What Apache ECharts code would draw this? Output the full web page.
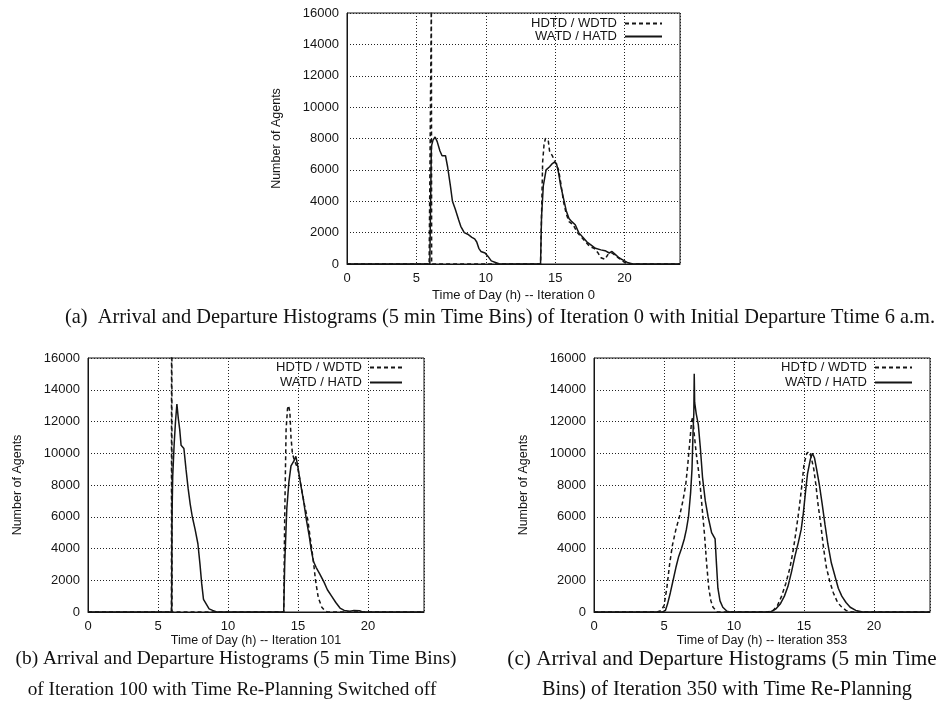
<!DOCTYPE html>
<html>
<head>
<meta charset="utf-8">
<script src="https://cdn.jsdelivr.net/npm/echarts@6/dist/echarts.min.js"></script>
<style>
html,body{margin:0;padding:0;background:#fff;}
#chart{width:947px;height:715px;}
</style>
</head>
<body>
<div id="chart"></div>
<script>
// ---- Tick settings ----
const xTicks = {min: 0, max: 24, interval: 5};
const yTicks = {min: 0, max: 16000, interval: 2000};

const seriesNames = ['HDTD / WDTD', 'WATD / HATD'];

const xNames = ['Time of Day (h) -- Iteration 0', 'Time of Day (h) -- Iteration 101', 'Time of Day (h) -- Iteration 353'];
const yName = 'Number of Agents';

const captionA = '(a)  Arrival and Departure Histograms (5 min Time Bins) of Iteration 0 with Initial Departure Ttime 6 a.m.';
const captionB = ['(b) Arrival and Departure Histograms (5 min Time Bins)', 'of Iteration 100 with Time Re-Planning Switched off'];
const captionC = ['(c) Arrival and Departure Histograms (5 min Time', 'Bins) of Iteration 350 with Time Re-Planning'];

// ---- Panel (a): Iteration 0 ---- [hour, agents]
const a_dep = [[0,0],[5.92,0],[6.08,17000],[6.1,0],[13.95,0],[14.1,6500],[14.2,7600],[14.3,8000],[14.5,7900],[14.6,7200],[14.8,6900],[15.0,6500],[15.25,6000],[15.4,5200],[15.6,4000],[15.8,3200],[16.0,2700],[16.3,2500],[16.6,2000],[16.9,1700],[17.2,1400],[17.5,1100],[17.8,1000],[18.1,700],[18.3,400],[18.6,300],[18.8,600],[19.1,700],[19.4,500],[19.7,300],[20.0,100],[20.3,0],[24,0]];
const a_arr = [[0,0],[5.97,0],[6.02,3500],[6.08,7500],[6.2,7900],[6.35,8100],[6.5,7800],[6.7,7200],[6.85,6900],[7.1,6900],[7.25,6200],[7.45,5000],[7.6,4000],[7.8,3500],[8.05,2800],[8.2,2400],[8.45,2000],[8.7,1900],[9.0,1700],[9.2,1600],[9.35,1400],[9.5,1000],[9.65,800],[9.95,700],[10.15,500],[10.4,200],[10.7,100],[11.0,0],[13.95,0],[14.02,3000],[14.15,5000],[14.35,6000],[14.6,6200],[14.8,6400],[14.95,6500],[15.1,6400],[15.25,5800],[15.4,5000],[15.6,4200],[15.8,3400],[16.0,2900],[16.2,2700],[16.45,2500],[16.7,2000],[17.0,1700],[17.3,1400],[17.6,1200],[17.9,1000],[18.3,900],[18.6,850],[18.9,700],[19.1,800],[19.35,600],[19.6,400],[19.9,250],[20.2,100],[20.6,0],[24,0]];

// ---- Panel (b): Iteration 101 ----
const b_dep = [[0,0],[5.96,0],[5.98,40000],[6.0,0],[13.98,0],[14.05,6000],[14.15,11500],[14.25,12800],[14.33,13000],[14.42,12600],[14.5,11000],[14.6,10000],[14.72,9600],[14.85,9700],[15.0,9000],[15.2,8000],[15.45,6800],[15.7,5800],[15.9,4500],[16.1,3200],[16.25,2000],[16.45,900],[16.7,300],[16.9,100],[17.1,0],[24,0]];
const b_arr = [[0,0],[5.97,0],[6.0,6000],[6.05,8500],[6.15,10500],[6.25,12000],[6.35,13100],[6.45,12200],[6.55,11500],[6.65,10500],[6.85,10300],[7.0,9000],[7.15,7800],[7.3,6800],[7.45,6000],[7.65,5200],[7.85,4300],[8.0,3000],[8.12,1800],[8.25,800],[8.45,500],[8.65,200],[8.9,100],[9.2,0],[13.98,0],[14.05,3000],[14.2,6500],[14.35,8200],[14.5,9200],[14.7,9500],[14.85,9800],[15.0,9100],[15.2,8000],[15.4,7000],[15.6,5800],[15.8,4800],[15.95,3900],[16.1,3200],[16.3,2800],[16.55,2400],[16.85,1900],[17.1,1400],[17.4,1000],[17.7,600],[18.0,250],[18.3,100],[18.7,50],[19.0,100],[19.4,80],[19.6,0],[24,0]];

// ---- Panel (c): Iteration 353 ----
const c_dep = [[0,0],[4.5,0],[4.8,100],[5.0,400],[5.2,1500],[5.4,3000],[5.6,4200],[5.85,5200],[6.1,6000],[6.35,7000],[6.55,8000],[6.7,9300],[6.85,10800],[6.97,12000],[7.05,12300],[7.15,11300],[7.3,10000],[7.45,9000],[7.6,7800],[7.75,6300],[7.9,4800],[8.05,3000],[8.2,1500],[8.35,700],[8.5,300],[8.8,0],[12.4,0],[12.8,100],[13.1,400],[13.4,1000],[13.7,1800],[14.0,2800],[14.25,4000],[14.45,5200],[14.65,6500],[14.85,8000],[15.0,9300],[15.2,10000],[15.35,10100],[15.5,9800],[15.7,9000],[15.85,8000],[16.0,6800],[16.2,5500],[16.4,4000],[16.6,2800],[16.85,1900],[17.1,1200],[17.4,600],[17.7,300],[18.0,100],[18.4,0],[24,0]];
const c_arr = [[0,0],[4.9,0],[5.1,100],[5.25,500],[5.45,1200],[5.65,2000],[5.85,2800],[6.05,3500],[6.25,4000],[6.45,4600],[6.6,5200],[6.75,6000],[6.9,7500],[7.0,9000],[7.08,11500],[7.13,12500],[7.16,15000],[7.19,13200],[7.3,12500],[7.45,11800],[7.6,10300],[7.75,8500],[7.95,7000],[8.15,6000],[8.4,5000],[8.65,4600],[8.75,3000],[8.85,1500],[9.0,700],[9.2,300],[9.5,50],[9.7,0],[12.6,0],[13.0,200],[13.3,500],[13.6,1000],[13.85,1600],[14.1,2500],[14.35,3500],[14.6,4400],[14.8,5200],[14.95,6200],[15.1,7500],[15.25,8700],[15.45,9600],[15.6,10000],[15.75,9700],[15.9,9000],[16.1,8000],[16.3,6800],[16.5,5500],[16.7,4300],[16.95,3100],[17.2,2300],[17.45,1500],[17.7,1000],[18.0,600],[18.3,300],[18.7,100],[19.2,0],[24,0]];

const panels = [
  {dep: a_dep, arr: a_arr},
  {dep: b_dep, arr: b_arr},
  {dep: c_dep, arr: c_arr}
];

// ---- Layout ----
const grids = [
  {left: 347, top: 13, width: 333, height: 251},
  {left: 88, top: 358, width: 336, height: 254},
  {left: 594, top: 358, width: 336, height: 254}
];
const xNameGap = [25, 21, 21];
const xNameSize = [13, 12.5, 12.5];
const legendPos = [
  {right: 284, top: 17, itemWidth: 37, itemGap: 0},
  {right: 544, top: 361, itemWidth: 32, itemGap: 2},
  {right: 34, top: 361, itemWidth: 37, itemGap: 2}
];

const sansFont = '"Liberation Sans", Arial, sans-serif';
const serifFont = '"Liberation Serif", "Times New Roman", serif';
const ink = '#151515';

function capText(text, x, y, size) {
  return {type: 'text', x: x, y: y, silent: true,
    style: {text: text, font: size + 'px ' + serifFont, fill: '#111', align: 'center', verticalAlign: 'middle'}};
}

const option = {
  animation: false,
  backgroundColor: '#ffffff',
  textStyle: {fontFamily: sansFont},
  grid: grids.map(g => Object.assign({show: true, borderColor: ink, borderWidth: 1, backgroundColor: 'transparent', containLabel: false}, g)),
  xAxis: grids.map((g, i) => ({
    type: 'value', gridIndex: i,
    min: xTicks.min, max: xTicks.max, interval: xTicks.interval,
    name: xNames[i], nameLocation: 'middle', nameGap: xNameGap[i],
    nameTextStyle: {fontSize: xNameSize[i], color: ink, fontFamily: sansFont},
    axisLine: {show: true, lineStyle: {color: ink, width: 1}},
    axisTick: {show: false},
    axisLabel: {fontSize: 13, color: ink, margin: 8, showMaxLabel: false, fontFamily: sansFont},
    splitLine: {show: true, lineStyle: {color: '#222', width: 1, type: [1, 2]}}
  })),
  yAxis: grids.map((g, i) => ({
    type: 'value', gridIndex: i,
    min: yTicks.min, max: yTicks.max, interval: yTicks.interval,
    name: yName, nameLocation: 'middle', nameGap: 64,
    nameTextStyle: {fontSize: 12.5, color: ink, fontFamily: sansFont},
    axisLine: {show: true, lineStyle: {color: ink, width: 1}},
    axisTick: {show: false},
    axisLabel: {fontSize: 13, color: ink, margin: 8, fontFamily: sansFont, formatter: v => String(v)},
    splitLine: {show: true, lineStyle: {color: '#222', width: 1, type: [1, 2]}}
  })),
  legend: legendPos.map(l => ({
    orient: 'vertical', align: 'right',
    right: l.right, top: l.top,
    itemWidth: l.itemWidth, itemHeight: 12, itemGap: l.itemGap,
    padding: 0, selectedMode: false,
    itemStyle: {opacity: 0, color: 'transparent', borderColor: 'transparent', borderWidth: 0},
    textStyle: {fontSize: 13, color: ink, fontFamily: sansFont, padding: [0, 3, 0, 0]},
    data: seriesNames
  })),
  series: [],
  graphic: [
    capText(captionA, 500, 318, 20.4),
    capText(captionB[0], 236, 659, 19.4),
    capText(captionB[1], 232, 690, 19.3),
    capText(captionC[0], 722, 659, 21.2),
    capText(captionC[1], 727, 690, 20.3)
  ]
};

panels.forEach((p, i) => {
  option.series.push({
    name: seriesNames[0], type: 'line', xAxisIndex: i, yAxisIndex: i,
    data: p.dep, symbol: 'none', showSymbol: false, clip: true,
    lineStyle: {color: ink, width: 1.5, type: [4, 3]},
    itemStyle: {color: ink}, z: 3
  });
  option.series.push({
    name: seriesNames[1], type: 'line', xAxisIndex: i, yAxisIndex: i,
    data: p.arr, symbol: 'none', showSymbol: false, clip: true,
    lineStyle: {color: ink, width: 1.5, type: 'solid'},
    itemStyle: {color: ink}, z: 4
  });
});

const chart = echarts.init(document.getElementById('chart'), null, {renderer: 'canvas'});
chart.setOption(option);
</script>
</body>
</html>
